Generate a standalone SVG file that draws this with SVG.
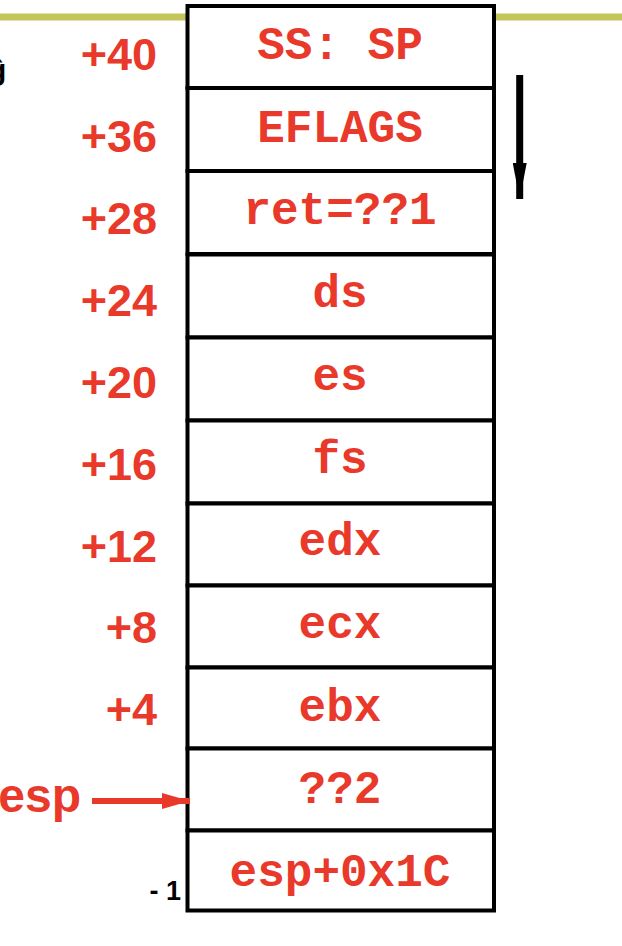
<svg xmlns="http://www.w3.org/2000/svg" width="622" height="946" viewBox="0 0 622 946">
<defs>
<style>
.box{fill:#ffffff;stroke:#000000;stroke-width:4}
.val{font-family:"Liberation Mono","Courier New",monospace;font-weight:bold;font-size:46px;fill:#e8392a;text-anchor:middle}
.off{font-family:"Liberation Sans",Arial,sans-serif;font-weight:bold;font-size:45px;fill:#e8392a;text-anchor:end}
</style>
<marker id="redHead" markerUnits="userSpaceOnUse" markerWidth="30" markerHeight="16" refX="28" refY="8" orient="auto">
<path d="M0,0 L28,8 L0,16 Z" fill="#e8392a"/>
</marker>
<marker id="blackHead" markerUnits="userSpaceOnUse" markerWidth="38" markerHeight="14" refX="36" refY="7" orient="auto">
<path d="M0,0 L36,7 L0,14 Z" fill="#000000"/>
</marker>
</defs>
<rect width="622" height="946" fill="#ffffff"/>
<line x1="0" y1="17" x2="622" y2="17" stroke="#c3c45a" stroke-width="7"/>
<text x="-12" y="80" font-family="Liberation Sans,Arial,sans-serif" font-weight="bold" font-size="30" fill="#000000">ĝ</text>
<g id="stack">
<g id="n-ssp"><rect class="box" x="187.5" y="6" width="306.5" height="82"/><text class="val" x="340" y="59">SS: SP</text></g>
<g id="n-eflags"><rect class="box" x="187.5" y="88" width="306.5" height="83"/><text class="val" x="340" y="142">EFLAGS</text></g>
<g id="n-ret"><rect class="box" x="187.5" y="171" width="306.5" height="83"/><text class="val" x="340" y="224">ret=??1</text></g>
<g id="n-ds"><rect class="box" x="187.5" y="254.5" width="306.5" height="83"/><text class="val" x="340" y="307">ds</text></g>
<g id="n-es"><rect class="box" x="187.5" y="337.5" width="306.5" height="83"/><text class="val" x="340" y="390">es</text></g>
<g id="n-fs"><rect class="box" x="187.5" y="420.5" width="306.5" height="83"/><text class="val" x="340" y="473">fs</text></g>
<g id="n-edx"><rect class="box" x="187.5" y="503.5" width="306.5" height="82"/><text class="val" x="340" y="555">edx</text></g>
<g id="n-ecx"><rect class="box" x="187.5" y="585.5" width="306.5" height="82"/><text class="val" x="340" y="638">ecx</text></g>
<g id="n-ebx"><rect class="box" x="187.5" y="667.5" width="306.5" height="81"/><text class="val" x="340" y="721">ebx</text></g>
<g id="n-q2"><rect class="box" x="187.5" y="748.5" width="306.5" height="82"/><text class="val" x="340" y="803">??2</text></g>
<g id="n-esp1c"><rect class="box" x="187.5" y="830.5" width="306.5" height="80"/><text class="val" x="340" y="886">esp+0x1C</text></g>
</g>
<g id="offsets">
<text class="off" x="157" y="70">+40</text>
<text class="off" x="157" y="152">+36</text>
<text class="off" x="157" y="234">+28</text>
<text class="off" x="157" y="316">+24</text>
<text class="off" x="157" y="398">+20</text>
<text class="off" x="157" y="480">+16</text>
<text class="off" x="157" y="562">+12</text>
<text class="off" x="157" y="643">+8</text>
<text class="off" x="157" y="725">+4</text>
</g>
<g id="n-esp-label"><text class="off" x="81" y="812" style="font-size:48px">esp</text></g>
<text x="181" y="900" font-family="Liberation Sans,Arial,sans-serif" font-weight="bold" font-size="27" fill="#000000" text-anchor="end">- 1</text>
<g id="connectors">
<line x1="92" y1="801" x2="190" y2="801" stroke="#e8392a" stroke-width="6" marker-end="url(#redHead)"/>
<line x1="519.7" y1="75" x2="519.7" y2="199" stroke="#000000" stroke-width="7" marker-end="url(#blackHead)"/>
</g>
</svg>
